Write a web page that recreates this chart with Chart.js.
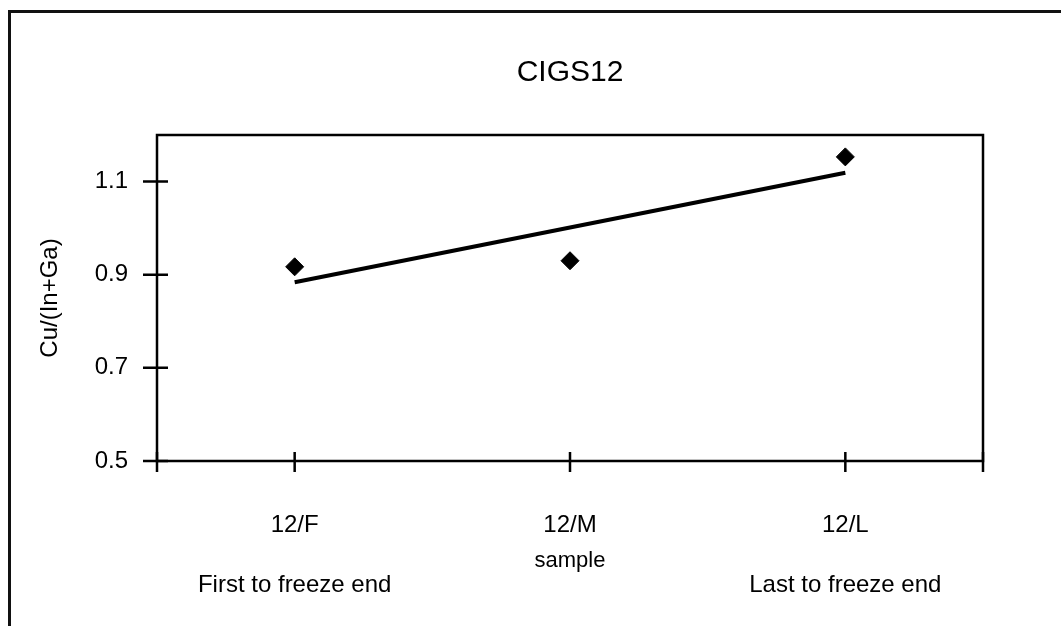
<!DOCTYPE html>
<html>
<head>
<meta charset="utf-8">
<title>CIGS12</title>
<script src="https://cdn.jsdelivr.net/npm/chart.js@4.4.1/dist/chart.umd.min.js"></script>
<style>
  html, body { margin: 0; padding: 0; background: #fff; overflow: hidden; }
  #wrap { position: relative; width: 1061px; height: 626px; }
  #frame { position: absolute; left: 8px; top: 10px; width: 1100px; height: 700px; border: 3px solid #111; box-sizing: border-box; }
  #chart { position: absolute; left: 0; top: 0; }
</style>
</head>
<body>
<div id="wrap">
  <div id="frame"></div>
  <canvas id="chart" width="1061" height="626"></canvas>
</div>
<script>
const chartTitle = 'CIGS12';
const samples = ['12/F', '12/M', '12/L'];
const ratio = [0.917, 0.930, 1.153];
const trend = [0.884, null, 1.119];
const yTicks = [0.5, 0.7, 0.9, 1.1];
const endNotes = ['First to freeze end', '', 'Last to freeze end'];

const FONT = "'Liberation Sans', Arial, sans-serif";

// box round the plot, ticks that cross the axes, title and the end notes
const decorations = {
  id: 'decorations',
  afterDraw(chart) {
    const { ctx, chartArea: a, scales: { x, y } } = chart;
    ctx.save();
    ctx.strokeStyle = '#000';
    ctx.lineWidth = 2.5;
    ctx.strokeRect(a.left, a.top, a.right - a.left, a.bottom - a.top);

    ctx.lineWidth = 2.5;
    ctx.beginPath();
    yTicks.forEach((v) => {
      const py = y.getPixelForValue(v);
      ctx.moveTo(a.left - 14, py);
      ctx.lineTo(a.left + 11, py);
    });
    const xs = [a.left, ...samples.map((s, i) => x.getPixelForValue(i)), a.right];
    xs.forEach((px) => {
      ctx.moveTo(px, a.bottom - 9);
      ctx.lineTo(px, a.bottom + 11);
    });
    ctx.stroke();

    ctx.fillStyle = '#000';
    ctx.textAlign = 'center';
    ctx.textBaseline = 'middle';
    ctx.font = '30px ' + FONT;
    ctx.fillText(chartTitle, (a.left + a.right) / 2, 73);
    ctx.font = '24px ' + FONT;
    endNotes.forEach((t, i) => {
      if (t) ctx.fillText(t, x.getPixelForValue(i), 585);
    });
    ctx.restore();
  }
};

new Chart(document.getElementById('chart').getContext('2d'), {
  type: 'line',
  data: {
    labels: samples,
    datasets: [
      {
        label: 'Cu/(In+Ga)',
        data: ratio,
        showLine: false,
        pointStyle: 'rectRot',
        pointRadius: 9,
        pointBackgroundColor: '#000',
        pointBorderColor: '#000',
        pointBorderWidth: 1
      },
      {
        label: 'trend',
        data: trend,
        spanGaps: true,
        borderColor: '#000',
        borderWidth: 4,
        pointRadius: 0,
        tension: 0
      }
    ]
  },
  options: {
    responsive: false,
    animation: false,
    devicePixelRatio: 1,
    layout: { padding: { top: 135, right: 78, bottom: 0, left: 0 } },
    plugins: {
      legend: { display: false },
      tooltip: { enabled: false },
      title: { display: false }
    },
    scales: {
      x: {
        type: 'category',
        offset: true,
        grid: { display: false, drawTicks: false },
        border: { display: false },
        ticks: { color: '#000', font: { family: FONT, size: 24 }, padding: 50, maxRotation: 0 },
        title: { display: true, text: 'sample', color: '#000', font: { family: FONT, size: 22 }, padding: 52 },
        afterFit(scale) { scale.height = 626 - 461; }
      },
      y: {
        min: 0.5,
        max: 1.2,
        grid: { display: false, drawTicks: false },
        border: { display: false },
        afterBuildTicks(scale) { scale.ticks = yTicks.map((v) => ({ value: v })); },
        ticks: {
          color: '#000',
          font: { family: FONT, size: 24 },
          padding: 29,
          callback: (v) => Number(v).toFixed(1)
        },
        title: { display: true, text: 'Cu/(In+Ga)', color: '#000', font: { family: FONT, size: 24 }, padding: 36 },
        afterFit(scale) { scale.width = 157; }
      }
    }
  },
  plugins: [decorations]
});
</script>
</body>
</html>
